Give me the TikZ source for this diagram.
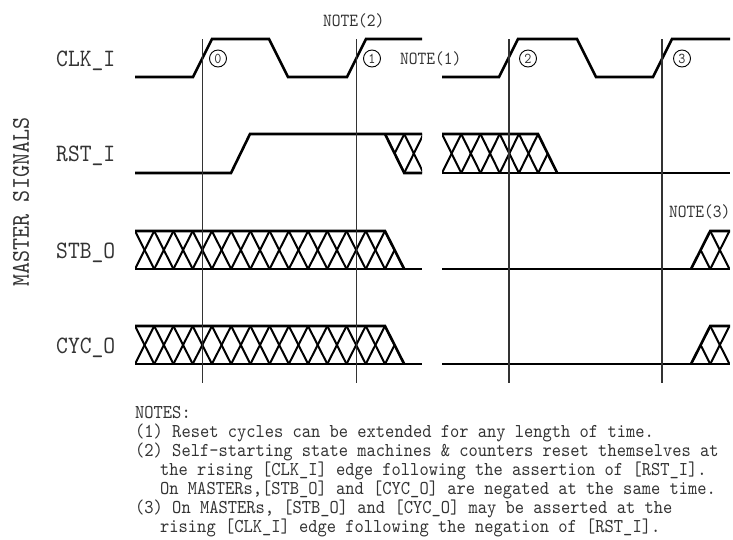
\documentclass[tikz,border=0pt]{standalone}
\usepackage{fontspec}
\newfontfamily\cfont{lmmono10-regular.otf}[FakeStretch=0.9]
\def\hpd{19.23}
\newcommand\hatchrow[5]{%
  \foreach \k in {#2,...,#3} {%
    \draw[hatchline] ({#1+\k*\hpd},#4) -- ({#1+(\k+1)*\hpd},#5);
    \draw[hatchline] ({#1+\k*\hpd},#5) -- ({#1+(\k+1)*\hpd},#4);
  }}
\tikzset{
  sig/.style={line width=2.6pt, line join=miter, black},
  hatchline/.style={line width=2pt, black},
  vline/.style={line width=1.3pt, black!80},
  lbl/.style={anchor=base west, inner sep=0, text=black!80, font=\cfont\fontsize{25}{25}\selectfont},
  note/.style={anchor=base west, inner sep=0, text=black!80, font=\cfont\fontsize{18.5}{18.5}\selectfont},
  txt/.style={anchor=base west, inner sep=0, text=black!80, font=\cfont\fontsize{19.6}{19.6}\selectfont},
  circ/.style={circle, draw, line width=0.9pt, minimum size=17pt, inner sep=0pt, text=black!80, font=\cfont\fontsize{15}{15}\selectfont}
}
\begin{document}
\begin{tikzpicture}[x=1pt,y=-1pt]
\useasboundingbox (0,0) rectangle (733,539);

% ---------- labels
\node[lbl] (lclk) at (56,66) {CLK\_I};
\node[lbl] (lrst) at (56,161.5) {RST\_I};
\node[lbl] (lstb) at (56,258) {STB\_O};
\node[lbl] (lcyc) at (56,353) {CYC\_O};
\node[rotate=90, inner sep=0, text=black!80, font=\cfont\fontsize{25.5}{25.5}\selectfont] (ms) at (21,202) {MASTER SIGNALS};

% ---------- CLK_I
\draw[sig] (135,77) -- (193,77) -- (212,39) -- (269,39) -- (288,77) -- (347,77) -- (366,39) -- (422,39);
\draw[sig] (442,77) -- (499,77) -- (518,39) -- (577,39) -- (596,77) -- (653,77) -- (672,39) -- (730,39);

% ---------- RST_I
\begin{scope}
  \clip (385,134) -- (422,134) -- (422,173) -- (404.2,173) -- cycle;
  \hatchrow{385}{-1}{1}{134}{173}
\end{scope}
\draw[sig] (135,173) -- (231,173) -- (250,134) -- (422,134);
\draw[sig] (385,134) -- (404.2,173) -- (422,173);
\begin{scope}
  \clip (442,134) -- (538,134) -- (557.2,173) -- (442,173) -- cycle;
  \hatchrow{442}{0}{5}{134}{173}
\end{scope}
\draw[sig] (442,134) -- (538,134) -- (557.2,173);
\draw[sig] (442,173) -- (730,173);

% ---------- STB_O
\begin{scope}
  \clip (135,231) -- (385,231) -- (404.2,269) -- (135,269) -- cycle;
  \hatchrow{135}{0}{13}{231}{269}
\end{scope}
\draw[sig] (135,231) -- (385,231) -- (404.2,269);
\draw[sig] (135,269) -- (422,269);
\begin{scope}
  \clip (691,269) -- (710.2,231) -- (730,231) -- (730,269) -- cycle;
  \hatchrow{691}{-1}{1}{231}{269}
\end{scope}
\draw[sig] (442,269) -- (730,269);
\draw[sig] (691,269) -- (710.2,231) -- (730,231);

% ---------- CYC_O
\begin{scope}
  \clip (135,326) -- (385,326) -- (404.2,364) -- (135,364) -- cycle;
  \hatchrow{135}{0}{13}{326}{364}
\end{scope}
\draw[sig] (135,326) -- (385,326) -- (404.2,364);
\draw[sig] (135,364) -- (422,364);
\begin{scope}
  \clip (691,364) -- (710.2,326) -- (730,326) -- (730,364) -- cycle;
  \hatchrow{691}{-1}{1}{326}{364}
\end{scope}
\draw[sig] (442,364) -- (730,364);
\draw[sig] (691,364) -- (710.2,326) -- (730,326);

% ---------- vertical reference lines
\coordinate (v0t) at (202.5,39); \coordinate (v0b) at (202.5,383);
\coordinate (v1t) at (356.5,39); \coordinate (v1b) at (356.5,383);
\coordinate (v2t) at (509,39);   \coordinate (v2b) at (509,383);
\coordinate (v3t) at (662,39);   \coordinate (v3b) at (662,383);
\draw[vline] (v0t) -- (v0b);
\draw[vline] (v1t) -- (v1b);
\draw[vline] (v2t) -- (v2b);
\draw[vline] (v3t) -- (v3b);

% ---------- circled edge numbers
\node[circ] (c0) at (218,58.5) {0};
\node[circ] (c1) at (372,58.5) {1};
\node[circ] (c2) at (528,58.5) {2};
\node[circ] (c3) at (682,58.5) {3};

% ---------- note markers
\node[note] (nt2) at (323,26) {NOTE(2)};
\node[note] (nt1) at (400,64) {NOTE(1)};
\node[note] (nt3) at (669,217.5) {NOTE(3)};

% ---------- notes text
\node[txt] (n0) at (135,418) {NOTES:};
\node[txt] (n1) at (135,437) {(1) Reset cycles can be extended for any length of time.};
\node[txt] (n2) at (135,456) {(2) Self-starting state machines \& counters reset themselves at};
\node[txt] (n3) at (160,475) {the rising [CLK\_I] edge following the assertion of [RST\_I].};
\node[txt] (n4) at (160,494) {On MASTERs,[STB\_O] and [CYC\_O] are negated at the same time.};
\node[txt] (n5) at (135,513) {(3) On MASTERs, [STB\_O] and [CYC\_O] may be asserted at the};
\node[txt] (n6) at (160,532) {rising [CLK\_I] edge following the negation of [RST\_I].};
\end{tikzpicture}
\end{document}
